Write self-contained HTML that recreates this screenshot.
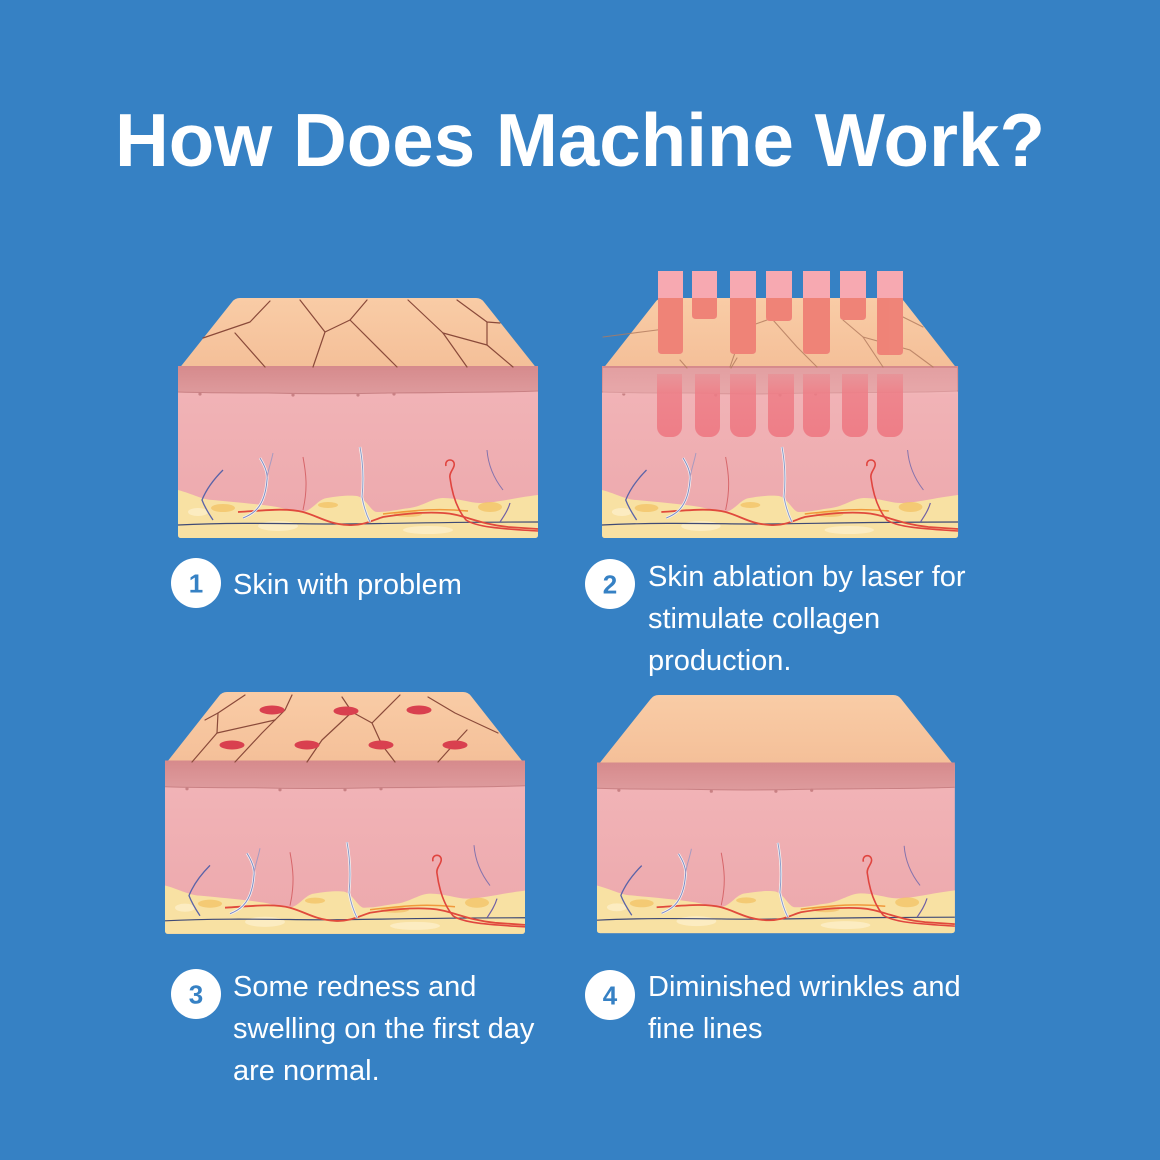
<!DOCTYPE html>
<html>
<head>
<meta charset="utf-8">
<style>
html,body{margin:0;padding:0;background:#3681c4;}
svg{display:block;}
</style>
</head>
<body>
<svg width="1160" height="1160" viewBox="0 0 1160 1160" xmlns="http://www.w3.org/2000/svg">
<defs>
  <linearGradient id="peach" x1="0" y1="0" x2="0" y2="1">
    <stop offset="0" stop-color="#f9cca6"/>
    <stop offset="1" stop-color="#f4bf98"/>
  </linearGradient>
  <linearGradient id="epi" x1="0" y1="0" x2="0" y2="1">
    <stop offset="0" stop-color="#d68a8c"/>
    <stop offset="1" stop-color="#de9b9d"/>
  </linearGradient>
  <linearGradient id="derm" x1="0" y1="0" x2="0" y2="1">
    <stop offset="0" stop-color="#f2b5b8"/>
    <stop offset="1" stop-color="#eca8ac"/>
  </linearGradient>
  <linearGradient id="barlow" x1="0" y1="0" x2="0" y2="1">
    <stop offset="0" stop-color="#ee7d86" stop-opacity="0.35"/>
    <stop offset="0.3" stop-color="#ee7d86" stop-opacity="0.85"/>
    <stop offset="1" stop-color="#ee7882" stop-opacity="0.9"/>
  </linearGradient>

  <g id="trap">
    <path d="M0,72 L54,4 Q57,0 62,0 L298,0 Q303,0 306,4 L360,72 Z" fill="url(#peach)"/>
  </g>

  <g id="body">
    <rect x="0" y="68" width="360" height="172" rx="3" fill="url(#derm)"/>
    <path d="M0,68 H360 V93 C330,95 300,94 270,95 C240,96 200,95 170,96 C130,96 90,95 50,95 C30,95 10,94 0,94 Z" fill="url(#epi)"/>
    <path d="M0,94 C30,95 60,95 90,95 C130,96 170,96 210,95 C260,94 310,95 360,93" fill="none" stroke="#c98184" stroke-width="1"/>
    <circle cx="22" cy="96" r="1.6" fill="#c98184"/>
    <circle cx="115" cy="97" r="1.6" fill="#c98184"/>
    <circle cx="180" cy="97" r="1.6" fill="#c98184"/>
    <circle cx="216" cy="96" r="1.6" fill="#c98184"/>
    <!-- fat -->
    <path d="M0,192 C15,196 25,202 35,202 C55,204 80,206 99,209 C110,211 118,215 125,214 C135,212 140,201 149,200 C160,198 172,197 179,198 C188,200 193,214 199,214 C212,214 222,211 232,210 C245,208 255,200 265,200 C280,200 292,205 302,205 C318,205 335,200 360,197 V237 Q360,240 357,240 H3 Q0,240 0,237 Z" fill="#f8e1a3"/>
    <ellipse cx="45" cy="210" rx="12" ry="4" fill="#f2c160" opacity="0.7"/>
    <ellipse cx="150" cy="207" rx="10" ry="3" fill="#f2c160" opacity="0.7"/>
    <ellipse cx="230" cy="216" rx="14" ry="3" fill="#f2b85a" opacity="0.6"/>
    <ellipse cx="312" cy="209" rx="12" ry="5" fill="#f2c160" opacity="0.7"/>
    <ellipse cx="100" cy="228" rx="20" ry="5" fill="#fcefc8" opacity="0.8"/>
    <ellipse cx="250" cy="232" rx="25" ry="4" fill="#fcefc8" opacity="0.8"/>
    <ellipse cx="20" cy="214" rx="10" ry="4" fill="#fcefc8" opacity="0.8"/>
    <!-- vessels -->
    <path d="M0,227 C60,224 120,226 160,226 S260,224 360,224" fill="none" stroke="#3f4a75" stroke-width="1.2"/>
    <path d="M205,216 C240,212 260,210 290,213" fill="none" stroke="#f0993b" stroke-width="1.5"/>
    <path d="M60,214 C90,212 110,210 125,214 C140,218 150,226 170,227 C185,228 195,222 205,219 C230,215 250,214 265,215 C285,216 300,226 330,229 L360,231" fill="none" stroke="#e04a3c" stroke-width="1.8"/>
    <path d="M45,172 C35,182 28,192 24,202 C27,210 31,216 35,222" fill="none" stroke="#5a63a8" stroke-width="1.3"/>
    <path d="M82,160 C87,168 90,175 89,182 C88,195 85,205 78,212 C74,216 70,218 65,220" fill="none" stroke="#f7f3f3" stroke-width="2.5"/>
    <path d="M82,160 C87,168 90,175 89,182 C88,195 85,205 78,212 C74,216 70,218 65,220" fill="none" stroke="#7e8cc4" stroke-width="1"/>
    <path d="M95,155 C93,165 90,172 89,180" fill="none" stroke="#a79ac0" stroke-width="1"/>
    <path d="M125,159 C128,175 130,190 125,212" fill="none" stroke="#d6666a" stroke-width="1"/>
    <path d="M182,149 C185,165 186,180 184,199 C186,210 189,218 192,224" fill="none" stroke="#f7f3f3" stroke-width="2.5"/>
    <path d="M182,149 C185,165 186,180 184,199 C186,210 189,218 192,224" fill="none" stroke="#8a9cc8" stroke-width="1"/>
    <path d="M268,168 C266,160 278,160 276,168 C275,172 271,175 272,180 C274,195 278,210 288,222 C300,230 330,231 360,233" fill="none" stroke="#e0453f" stroke-width="1.6"/>
    <path d="M309,152 C310,165 314,178 325,192" fill="none" stroke="#8573ad" stroke-width="1"/>
    <path d="M332,205 C330,212 326,218 322,224" fill="none" stroke="#6e5ea5" stroke-width="1.2"/>
  </g>
</defs>

<!-- Title -->
<text x="580" y="166" text-anchor="middle" font-family="Liberation Sans, Arial, sans-serif" font-weight="bold" font-size="75" fill="#ffffff" textLength="930" lengthAdjust="spacingAndGlyphs">How Does Machine Work?</text>

<!-- Block 1 -->
<g transform="translate(178,298)">
  <use href="#trap"/>
  <use href="#body"/>
</g>
<g fill="none" stroke="#8a4a3a" stroke-width="1.2" stroke-linecap="round" stroke-linejoin="round">
  <polyline points="270,301 250,322 203,338"/>
  <polyline points="235,333 265,367"/>
  <polyline points="300,300 325,332 313,367"/>
  <polyline points="325,332 350,320 367,300"/>
  <polyline points="350,320 397,367"/>
  <polyline points="408,300 443,333 467,367"/>
  <polyline points="443,333 487,345 513,367"/>
  <polyline points="487,322 487,345"/>
  <polyline points="457,300 487,322 500,323"/>
</g>

<!-- Block 2 -->
<g transform="translate(602,298) scale(0.989,1)">
  <use href="#trap"/>
  <use href="#body"/>
</g>
<rect x="603" y="368" width="354" height="26" fill="#f2b8ba" opacity="0.45"/>
<g fill="none" stroke="#b27a5e" stroke-width="1.1" opacity="0.8" stroke-linecap="round">
  <polyline points="603,337 657,330 677,327"/>
  <polyline points="733,307 747,327 737,347 730,367"/>
  <polyline points="747,327 767,320 790,307"/>
  <polyline points="773,320 797,347 817,367"/>
  <polyline points="843,320 863,337 883,367"/>
  <polyline points="863,337 910,350 933,367"/>
  <polyline points="903,317 923,327"/>
  <polyline points="680,360 687,368"/>
  <polyline points="737,358 731,368"/>
</g>
<!-- laser bars upper -->
<g>
  <path d="M658,271 H683 V350 Q683,354 679,354 H662 Q658,354 658,350 Z" fill="#f7a9b1"/>
  <path d="M692,271 H717 V315 Q717,319 713,319 H696 Q692,319 692,315 Z" fill="#f7a9b1"/>
  <path d="M730,271 H756 V350 Q756,354 752,354 H734 Q730,354 730,350 Z" fill="#f7a9b1"/>
  <path d="M766,271 H792 V317 Q792,321 788,321 H770 Q766,321 766,317 Z" fill="#f7a9b1"/>
  <path d="M803,271 H830 V350 Q830,354 826,354 H807 Q803,354 803,350 Z" fill="#f7a9b1"/>
  <path d="M840,271 H866 V316 Q866,320 862,320 H844 Q840,320 840,316 Z" fill="#f7a9b1"/>
  <path d="M877,271 H903 V351 Q903,355 899,355 H881 Q877,355 877,351 Z" fill="#f7a9b1"/>
</g>
<g fill="#ee7e70" opacity="0.88">
  <path d="M658,298 H683 V350 Q683,354 679,354 H662 Q658,354 658,350 Z"/>
  <path d="M692,298 H717 V315 Q717,319 713,319 H696 Q692,319 692,315 Z"/>
  <path d="M730,298 H756 V350 Q756,354 752,354 H734 Q730,354 730,350 Z"/>
  <path d="M766,298 H792 V317 Q792,321 788,321 H770 Q766,321 766,317 Z"/>
  <path d="M803,298 H830 V350 Q830,354 826,354 H807 Q803,354 803,350 Z"/>
  <path d="M840,298 H866 V316 Q866,320 862,320 H844 Q840,320 840,316 Z"/>
  <path d="M877,298 H903 V351 Q903,355 899,355 H881 Q877,355 877,351 Z"/>
</g>
<!-- laser bars lower -->
<g fill="url(#barlow)">
  <path d="M657,374 H682 V427 A10,10 0 0 1 672,437 H667 A10,10 0 0 1 657,427 Z"/>
  <path d="M695,374 H720 V427 A10,10 0 0 1 710,437 H705 A10,10 0 0 1 695,427 Z"/>
  <path d="M730,374 H756 V427 A10,10 0 0 1 746,437 H740 A10,10 0 0 1 730,427 Z"/>
  <path d="M768,374 H794 V427 A10,10 0 0 1 784,437 H778 A10,10 0 0 1 768,427 Z"/>
  <path d="M803,374 H830 V427 A10,10 0 0 1 820,437 H813 A10,10 0 0 1 803,427 Z"/>
  <path d="M842,374 H868 V427 A10,10 0 0 1 858,437 H852 A10,10 0 0 1 842,427 Z"/>
  <path d="M877,374 H903 V427 A10,10 0 0 1 893,437 H887 A10,10 0 0 1 877,427 Z"/>
</g>

<!-- Block 3 -->
<g transform="translate(165,692) scale(1,1.008)">
  <use href="#trap"/>
  <use href="#body"/>
</g>
<g fill="none" stroke="#8a4a3a" stroke-width="1.2" stroke-linecap="round" stroke-linejoin="round">
  <polyline points="245,695 218,713 205,720"/>
  <polyline points="218,713 217,733 192,762"/>
  <polyline points="217,733 275,720"/>
  <polyline points="292,695 285,710 262,733 235,762"/>
  <polyline points="342,697 352,712 322,740 307,762"/>
  <polyline points="352,712 372,723 382,745 395,762"/>
  <polyline points="372,723 400,695"/>
  <polyline points="428,697 455,713 498,733"/>
  <polyline points="467,730 455,743 438,762"/>
</g>
<g fill="#d9404f">
  <ellipse cx="272" cy="710" rx="12.5" ry="4.5"/>
  <ellipse cx="346" cy="711" rx="12.5" ry="4.5"/>
  <ellipse cx="419" cy="710" rx="12.5" ry="4.5"/>
  <ellipse cx="232" cy="745" rx="12.5" ry="4.5"/>
  <ellipse cx="307" cy="745" rx="12.5" ry="4.5"/>
  <ellipse cx="381" cy="745" rx="12.5" ry="4.5"/>
  <ellipse cx="455" cy="745" rx="12.5" ry="4.5"/>
</g>

<!-- Block 4 -->
<g transform="translate(597,695) scale(0.994,0.992)">
  <use href="#trap"/>
  <use href="#body"/>
</g>

<!-- Labels -->
<g font-family="Liberation Sans, Arial, sans-serif">
  <circle cx="196" cy="583" r="25" fill="#ffffff"/>
  <text x="196" y="592.5" text-anchor="middle" font-size="26" font-weight="bold" fill="#3681c4">1</text>
  <circle cx="610" cy="584" r="25" fill="#ffffff"/>
  <text x="610" y="593.5" text-anchor="middle" font-size="26" font-weight="bold" fill="#3681c4">2</text>
  <circle cx="196" cy="994" r="25" fill="#ffffff"/>
  <text x="196" y="1003.5" text-anchor="middle" font-size="26" font-weight="bold" fill="#3681c4">3</text>
  <circle cx="610" cy="995" r="25" fill="#ffffff"/>
  <text x="610" y="1004.5" text-anchor="middle" font-size="26" font-weight="bold" fill="#3681c4">4</text>

  <g fill="#ffffff" font-size="29">
    <text x="233" y="594">Skin with problem</text>
    <text x="648" y="586">Skin ablation by laser for</text>
    <text x="648" y="628">stimulate collagen</text>
    <text x="648" y="670">production.</text>
    <text x="233" y="996">Some redness and</text>
    <text x="233" y="1038">swelling on the first day</text>
    <text x="233" y="1080">are normal.</text>
    <text x="648" y="996">Diminished wrinkles and</text>
    <text x="648" y="1038">fine lines</text>
  </g>
</g>
</svg>
</body>
</html>
